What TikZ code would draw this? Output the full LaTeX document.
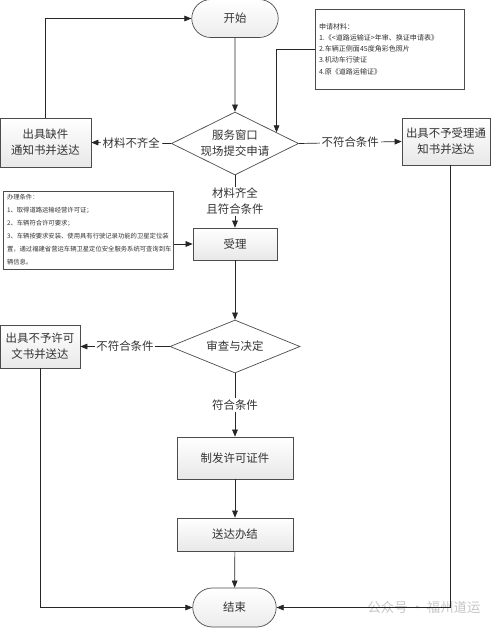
\documentclass[tikz,border=0pt]{standalone}
\usepackage{fontspec}
\setmainfont{Noto Sans CJK SC}
\usetikzlibrary{shapes.geometric,shapes.misc,arrows.meta}
\begin{document}
\begin{tikzpicture}[x=0.02cm,y=-0.02cm,
  font=\fontsize{6.5}{9}\selectfont,
  box/.style={draw=gray!60!black,top color=white,bottom color=gray!18,align=center,inner sep=1pt,text=black!80},
  term/.style={rounded rectangle,draw=gray!60!black,top color=white,bottom color=gray!15,inner sep=1pt,text=black!80},
  decide/.style={diamond,draw=gray!60!black,fill=white,aspect=2,inner sep=0pt,align=center,text=black!80},
  note/.style={draw=gray!60!black,fill=white,align=left,inner sep=2pt,text=black!80},
  line/.style={draw=gray!30!black,-{Triangle[length=4pt,width=3.2pt]}},
  tag/.style={fill=white,inner sep=1pt,align=center,text=black!80}]
  \useasboundingbox (0,0) rectangle (500,629);

  \node[term,minimum width=1.8cm,minimum height=0.76cm] (start) at (235,18.5) {开始};
  \node[decide,minimum width=2.54cm,minimum height=1.26cm] (apply) at (235,143.5) {服务窗口\\现场提交申请};
  \node[box,minimum width=1.82cm,minimum height=0.98cm] (lack) at (45.5,142.5) {出具缺件\\通知书并送达};
  \node[box,minimum width=1.76cm,minimum height=0.94cm] (reject1) at (446,141.5) {出具不予受理通\\知书并送达};
  \node[note,text width=2.84cm,minimum height=1.6cm,font=\fontsize{4}{6.4}\selectfont] (materials) at (390,49) {申请材料：\\1.《<道路运输证>年审、换证申请表》\\2.车辆正侧面45度角彩色照片\\3.机动车行驶证\\4.原《道路运输证》};
  \node[note,text width=3.26cm,minimum height=1.52cm,font=\fontsize{3.6}{7.4}\selectfont] (conditions) at (88.5,230) {办理条件：\\1、取得道路运输经营许可证；\\2、车辆符合许可要求；\\3、车辆按要求安装、使用具有行驶记录功能的卫星定位装\\置，通过福建省营运车辆卫星定位安全服务系统可查询到车\\辆信息。};
  \node[box,minimum width=1.68cm,minimum height=0.64cm] (accept) at (235,244) {受理};
  \node[decide,minimum width=2.6cm,minimum height=1.06cm] (review) at (235,346.5) {审查与决定};
  \node[box,minimum width=1.6cm,minimum height=0.86cm] (reject2) at (40,346.5) {出具不予许可\\文书并送达};
  \node[box,minimum width=2.32cm,minimum height=0.84cm] (issue) at (235,458) {制发许可证件};
  \node[box,minimum width=2.32cm,minimum height=0.66cm] (done) at (235,534.5) {送达办结};
  \node[term,minimum width=1.74cm,minimum height=0.78cm] (end) at (234.5,607.5) {结束};
  \node[text=gray!45,font=\fontsize{7.6}{9}\selectfont] (mark) at (424,607) {公众号 · 福州道运};

  \draw[line] (start) -- (apply);
  \draw[line] (materials.west) -| (apply.15);
  \draw[line] (lack.north) |- (start.west);
  \draw[line] (apply.west) -- node[tag] {材料不齐全} (lack.east);
  \draw[line] (apply.east) -- node[tag] {不符合条件} (reject1.west);
  \draw[line] (apply.south) -- node[tag] {材料齐全\\且符合条件} (accept.north);
  \draw[line] (conditions.east |- accept.west) -- (accept.west);
  \draw[line] (accept) -- (review);
  \draw[line] (review.west) -- node[tag] {不符合条件} (reject2.east);
  \draw[line] (review.south) -- node[tag] {符合条件} (issue.north);
  \draw[line] (issue) -- (done);
  \draw[line] (done) -- (end);
  \draw[line] (reject2.south) |- (end.west);
  \draw[line] ([xshift=0.08cm]reject1.south) |- (end.east);
\end{tikzpicture}
\end{document}
